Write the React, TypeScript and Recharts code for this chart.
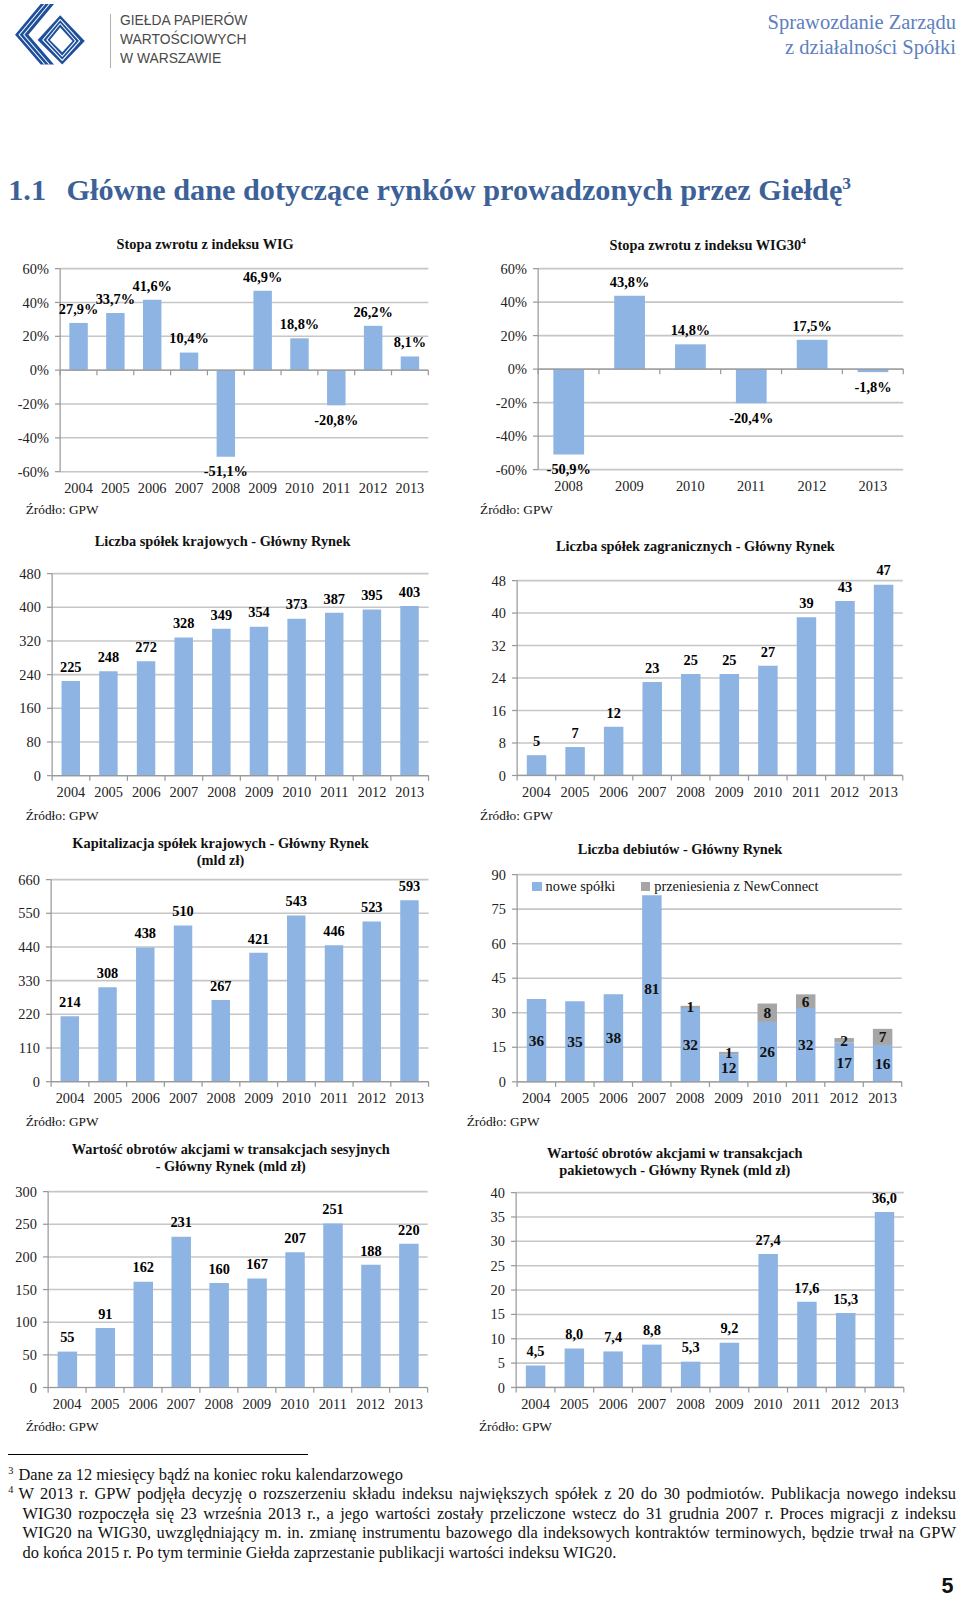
import React from "react";
import { BarChart, Bar, XAxis, YAxis, CartesianGrid, ReferenceLine, LabelList } from "recharts";

const years = ["2004", "2005", "2006", "2007", "2008", "2009", "2010", "2011", "2012", "2013"];
const wig30Years = ["2008", "2009", "2010", "2011", "2012", "2013"];

const wigReturns = [27.9, 33.7, 41.6, 10.4, -51.1, 46.9, 18.8, -20.8, 26.2, 8.1];
const wig30Returns = [-50.9, 43.8, 14.8, -20.4, 17.5, -1.8];
const domesticCompanies = [225, 248, 272, 328, 349, 354, 373, 387, 395, 403];
const foreignCompanies = [5, 7, 12, 23, 25, 25, 27, 39, 43, 47];
const capitalisation = [214, 308, 438, 510, 267, 421, 543, 446, 523, 593];
const newListings = [36, 35, 38, 81, 32, 12, 26, 32, 17, 16];
const ncTransfers = [0, 0, 0, 0, 1, 1, 8, 6, 2, 7];
const sessionTurnover = [55, 91, 162, 231, 160, 167, 207, 251, 188, 220];
const blockTurnover = [4.5, 8.0, 7.4, 8.8, 5.3, 9.2, 27.4, 17.6, 15.3, 36.0];

const pctTicks = [-60, -40, -20, 0, 20, 40, 60];
const domesticTicks = [0, 80, 160, 240, 320, 400, 480];
const foreignTicks = [0, 8, 16, 24, 32, 40, 48];
const capTicks = [0, 110, 220, 330, 440, 550, 660];
const debutTicks = [0, 15, 30, 45, 60, 75, 90];
const sessionTicks = [0, 50, 100, 150, 200, 250, 300];
const blockTicks = [0, 5, 10, 15, 20, 25, 30, 35, 40];

const FONT = "'Liberation Serif', 'Times New Roman', serif";
const BLUE = "#8eb4e3";
const GRAY = "#a6a6a6";
const GRID = "#c6c6c6";
const AXIS = "#999999";
const MT = 24;
const MR = 12;
const XH = 34;
const YW = 44;
// layout below is measured on a 936px-wide copy of the page
const ZOOM = 960 / 936;

const pct = (v: number) => `${v.toFixed(1).replace(".", ",")}%`;
const dec = (v: number) => v.toFixed(1).replace(".", ",");

type Series = { key: string; name?: string; values: number[]; color: string; inside?: boolean };

type PanelProps = {
  cats: string[];
  series: Series[];
  plot: { l: number; t: number; r: number; b: number };
  domain: [number, number];
  ticks: number[];
  yFmt?: (v: number) => string;
  valFmt?: (v: number) => string;
  zeroAxis?: boolean;
};

function outsideLabel(fmt: (v: number) => string) {
  return (p: any) => {
    const x = Number(p.x);
    const y = Number(p.y);
    const w = Number(p.width);
    const h = Number(p.height);
    const v = Number(p.value);
    const top = Math.min(y, y + h);
    const bot = Math.max(y, y + h);
    return (
      <text
        x={x + w / 2}
        y={v < 0 ? bot + 19 : top - 9}
        textAnchor="middle"
        fontFamily={FONT}
        fontSize={14}
        fontWeight="bold"
        fill="#000"
      >
        {fmt(v)}
      </text>
    );
  };
}

function insideLabel(p: any) {
  const v = Number(p.value);
  if (!v) return null;
  const x = Number(p.x);
  const y = Number(p.y);
  const w = Number(p.width);
  const h = Number(p.height);
  return (
    <text
      x={x + w / 2}
      y={y + h / 2}
      dy="0.35em"
      textAnchor="middle"
      fontFamily={FONT}
      fontSize={15}
      fontWeight="bold"
      fill="#111"
    >
      {v}
    </text>
  );
}

function Panel({ cats, series, plot, domain, ticks, yFmt, valFmt, zeroAxis }: PanelProps) {
  const plotH = plot.b - plot.t;
  const left = plot.l - YW;
  const top = plot.t - MT;
  const width = plot.r - left + MR;
  const height = plotH + MT + XH;
  const band = (plot.r - plot.l) / cats.length;
  const plotBottom = MT + plotH;
  const axisY = zeroAxis ? MT + (domain[1] / (domain[1] - domain[0])) * plotH : plotBottom;
  const rows = cats.map((c, i) => {
    const row: any = { cat: c };
    series.forEach((s) => (row[s.key] = s.values[i]));
    return row;
  });
  const stacked = series.length > 1;

  const renderTick = (p: any) => {
    const x = Number(p.x);
    const last = p.index === cats.length - 1;
    return (
      <g>
        <line x1={x - band / 2} x2={x - band / 2} y1={axisY} y2={axisY + 5} stroke={AXIS} strokeWidth={1.2} />
        {last && <line x1={x + band / 2} x2={x + band / 2} y1={axisY} y2={axisY + 5} stroke={AXIS} strokeWidth={1.2} />}
        <text x={x} y={plotBottom + 16} dy="0.35em" textAnchor="middle" fontFamily={FONT} fontSize={14} fill="#222">
          {p.payload.value}
        </text>
      </g>
    );
  };

  return (
    <div style={{ position: "absolute", left, top }}>
      <BarChart
        width={width}
        height={height}
        data={rows}
        margin={{ top: MT, right: MR, bottom: 0, left: 0 }}
        barCategoryGap="25%"
      >
        <CartesianGrid vertical={false} stroke={GRID} strokeWidth={1.5} />
        <XAxis
          dataKey="cat"
          height={XH}
          interval={0}
          axisLine={zeroAxis ? false : { stroke: AXIS, strokeWidth: 1.2 }}
          tickLine={false}
          tick={renderTick}
        />
        <YAxis
          width={YW}
          domain={domain}
          ticks={ticks}
          interval={0}
          tickFormatter={yFmt}
          axisLine={{ stroke: AXIS, strokeWidth: 1.2 }}
          tickLine={{ stroke: AXIS, strokeWidth: 1.2 }}
          tickSize={5}
          tickMargin={6}
          tick={{ fontFamily: FONT, fontSize: 14, fill: "#222" }}
        />
        {zeroAxis && <ReferenceLine y={0} stroke={AXIS} strokeWidth={1.2} />}
        {series.map((s) => (
          <Bar
            key={s.key}
            dataKey={s.key}
            name={s.name}
            fill={s.color}
            stackId={stacked ? "s" : undefined}
            isAnimationActive={false}
          >
            <LabelList dataKey={s.key} content={s.inside ? insideLabel : outsideLabel(valFmt || ((v) => String(v)))} />
          </Bar>
        ))}
      </BarChart>
    </div>
  );
}

function Title({ x, y, lines }: { x: number; y: number; lines: React.ReactNode[] }) {
  return (
    <div
      style={{
        position: "absolute",
        left: x - 200,
        top: y - 9,
        width: 400,
        textAlign: "center",
        fontFamily: FONT,
        fontSize: 14,
        lineHeight: "17px",
        fontWeight: "bold",
        color: "#111",
        whiteSpace: "nowrap",
      }}
    >
      {lines.map((l, i) => (
        <div key={i}>{l}</div>
      ))}
    </div>
  );
}

function Source({ x, y }: { x: number; y: number }) {
  return (
    <div style={{ position: "absolute", left: x, top: y - 8, fontFamily: FONT, fontSize: 13, lineHeight: "16px", color: "#111" }}>
      Źródło: GPW
    </div>
  );
}

function DebutLegend({ x, y }: { x: number; y: number }) {
  const item = (color: string, text: string, ml: number) => (
    <span style={{ display: "inline-flex", alignItems: "center", marginLeft: ml }}>
      <span style={{ width: 9, height: 9, background: color, display: "inline-block", marginRight: 4 }} />
      <span>{text}</span>
    </span>
  );
  return (
    <div
      style={{
        position: "absolute",
        left: x,
        top: y - 9,
        fontFamily: FONT,
        fontSize: 14,
        lineHeight: "18px",
        color: "#111",
        whiteSpace: "nowrap",
        display: "flex",
      }}
    >
      {item(BLUE, "nowe spółki", 0)}
      {item(GRAY, "przeniesienia z NewConnect", 25)}
    </div>
  );
}

function Logo() {
  const c = "#1d4f9b";
  return (
    <svg width={72} height={62} style={{ position: "absolute", left: 13, top: 3 }}>
      <polygon points="27,1 40,1 15,31 40,60 27,60 2,31" fill={c} />
      <polyline points="31,1 6,31 31,60" fill="none" stroke="#fff" strokeWidth={1} />
      <polyline points="35.5,1 10.5,31 35.5,60" fill="none" stroke="#fff" strokeWidth={1} />
      <polygon points="46,12 70,37 48,60 24,36" fill={c} />
      <polygon points="46,24 58,37 48,48 36,36" fill="#fff" />
      <polyline points="46,16 65,37 48,56 29,36 46,16" fill="none" stroke="#fff" strokeWidth={1} />
      <polyline points="46,20 61,37 48,52 33,36 46,20" fill="none" stroke="#fff" strokeWidth={1} />
    </svg>
  );
}

const fnLine: React.CSSProperties = {
  position: "absolute",
  fontFamily: FONT,
  fontSize: 16,
  lineHeight: "19px",
  color: "#111",
  whiteSpace: "nowrap",
};

export default function App() {
  return (
    <div
      style={{
        position: "absolute",
        left: 0,
        top: 0,
        width: 936,
        height: 1568,
        background: "#fff",
        overflow: "hidden",
        zoom: ZOOM,
      } as React.CSSProperties}
    >
      <Logo />
      <div style={{ position: "absolute", left: 107, top: 14, width: 1, height: 52, background: "#b0b0b0" }} />
      <div
        style={{
          position: "absolute",
          left: 117,
          top: 11,
          fontFamily: "'Liberation Sans', Arial, sans-serif",
          fontSize: 13.5,
          lineHeight: "18.5px",
          color: "#4a4a4a",
        }}
      >
        <div>GIEŁDA PAPIERÓW</div>
        <div>WARTOŚCIOWYCH</div>
        <div>W WARSZAWIE</div>
      </div>
      <div
        style={{
          position: "absolute",
          right: 4,
          top: 10,
          textAlign: "right",
          fontFamily: FONT,
          fontSize: 20,
          lineHeight: "24px",
          color: "#5d80c0",
        }}
      >
        <div>Sprawozdanie Zarządu</div>
        <div>z działalności Spółki</div>
      </div>

      <div
        style={{
          position: "absolute",
          left: 8,
          top: 161,
          fontFamily: FONT,
          fontSize: 29.5,
          lineHeight: "36px",
          fontWeight: "bold",
          color: "#3c6198",
          whiteSpace: "nowrap",
        }}
      >
        <span>1.1</span>
        <span style={{ marginLeft: 20 }}>Główne dane dotyczące rynków prowadzonych przez Giełdę</span>
        <sup style={{ fontSize: 17 }}>3</sup>
      </div>

      <Title x={200} y={239} lines={["Stopa zwrotu z indeksu WIG"]} />
      <Panel
        cats={years}
        series={[{ key: "wig", values: wigReturns, color: BLUE }]}
        plot={{ l: 59, t: 262, r: 418, b: 460 }}
        domain={[-60, 60]}
        ticks={pctTicks}
        yFmt={(v) => `${v}%`}
        valFmt={pct}
        zeroAxis
      />
      <Source x={25} y={497} />

      <Title x={690} y={236} lines={[<span key="t">Stopa zwrotu z indeksu WIG30<sup style={{ fontSize: 9 }}>4</sup></span>]} />
      <Panel
        cats={wig30Years}
        series={[{ key: "wig30", values: wig30Returns, color: BLUE }]}
        plot={{ l: 525, t: 262, r: 881, b: 458 }}
        domain={[-60, 60]}
        ticks={pctTicks}
        yFmt={(v) => `${v}%`}
        valFmt={pct}
        zeroAxis
      />
      <Source x={468} y={497} />

      <Title x={217} y={529} lines={["Liczba spółek krajowych  - Główny Rynek"]} />
      <Panel
        cats={years}
        series={[{ key: "dom", values: domesticCompanies, color: BLUE }]}
        plot={{ l: 51, t: 559, r: 418, b: 756 }}
        domain={[0, 480]}
        ticks={domesticTicks}
      />
      <Source x={25} y={796} />

      <Title x={678} y={534} lines={["Liczba spółek zagranicznych - Główny Rynek"]} />
      <Panel
        cats={years}
        series={[{ key: "for", values: foreignCompanies, color: BLUE }]}
        plot={{ l: 504, t: 566, r: 880, b: 756 }}
        domain={[0, 48]}
        ticks={foreignTicks}
      />
      <Source x={468} y={796} />

      <Title x={215} y={823} lines={["Kapitalizacja spółek krajowych - Główny Rynek", "(mld zł)"]} />
      <Panel
        cats={years}
        series={[{ key: "cap", values: capitalisation, color: BLUE }]}
        plot={{ l: 50, t: 858, r: 418, b: 1055 }}
        domain={[0, 660]}
        ticks={capTicks}
      />
      <Source x={25} y={1094} />

      <Title x={663} y={829} lines={["Liczba debiutów  - Główny Rynek"]} />
      <Panel
        cats={years}
        series={[
          { key: "nowe", name: "nowe spółki", values: newListings, color: BLUE, inside: true },
          { key: "nc", name: "przeniesienia z NewConnect", values: ncTransfers, color: GRAY, inside: true },
        ]}
        plot={{ l: 504, t: 853, r: 879, b: 1055 }}
        domain={[0, 90]}
        ticks={debutTicks}
      />
      <DebutLegend x={519} y={864} />
      <Source x={455} y={1094} />

      <Title x={225} y={1121} lines={["Wartość obrotów akcjami w transakcjach sesyjnych", "- Główny Rynek (mld zł)"]} />
      <Panel
        cats={years}
        series={[{ key: "ses", values: sessionTurnover, color: BLUE }]}
        plot={{ l: 47, t: 1162, r: 417, b: 1353 }}
        domain={[0, 300]}
        ticks={sessionTicks}
      />
      <Source x={25} y={1392} />

      <Title x={658} y={1125} lines={["Wartość obrotów akcjami w transakcjach", "pakietowych - Główny Rynek (mld zł)"]} />
      <Panel
        cats={years}
        series={[{ key: "pak", values: blockTurnover, color: BLUE }]}
        plot={{ l: 503, t: 1163, r: 881, b: 1353 }}
        domain={[0, 40]}
        ticks={blockTicks}
        valFmt={dec}
      />
      <Source x={467} y={1392} />

      <div style={{ position: "absolute", left: 8, top: 1418, width: 292, height: 1, background: "#000" }} />
      <div style={{ ...fnLine, left: 8, top: 1424, fontSize: 10 }}>3</div>
      <div style={{ ...fnLine, left: 18, top: 1428 }}>Dane za 12 miesięcy bądź na koniec roku kalendarzowego</div>
      <div style={{ ...fnLine, left: 8, top: 1443, fontSize: 10 }}>4</div>
      <div style={{ ...fnLine, left: 18, top: 1447, width: 914, textAlign: "justify", textAlignLast: "justify" }}>
        W 2013 r. GPW podjęła decyzję o rozszerzeniu składu indeksu największych spółek z 20 do 30 podmiotów. Publikacja nowego indeksu
      </div>
      <div style={{ ...fnLine, left: 22, top: 1466, width: 910, textAlign: "justify", textAlignLast: "justify" }}>
        WIG30 rozpoczęła się 23 września 2013 r., a jego wartości zostały przeliczone wstecz do 31 grudnia 2007 r. Proces migracji z indeksu
      </div>
      <div style={{ ...fnLine, left: 22, top: 1485, width: 910, textAlign: "justify", textAlignLast: "justify" }}>
        WIG20 na WIG30, uwzględniający m. in. zmianę instrumentu bazowego dla indeksowych kontraktów terminowych, będzie trwał na GPW
      </div>
      <div style={{ ...fnLine, left: 22, top: 1504 }}>
        do końca 2015 r. Po tym terminie Giełda zaprzestanie publikacji wartości indeksu WIG20.
      </div>

      <div
        style={{
          position: "absolute",
          left: 918,
          top: 1536,
          fontFamily: "'Liberation Sans', Arial, sans-serif",
          fontSize: 21,
          lineHeight: "22px",
          fontWeight: "bold",
          color: "#111",
        }}
      >
        5
      </div>
    </div>
  );
}
